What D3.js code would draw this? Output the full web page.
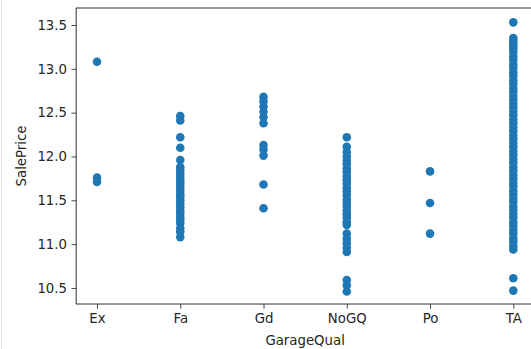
<!DOCTYPE html>
<html>
<head>
<meta charset="utf-8">
<script src="https://cdn.jsdelivr.net/npm/d3@7"></script>
<style>
	body { margin: 0; background: #fff; }
	text { font-family: "DejaVu Sans", sans-serif; fill: #262626; }
</style>
</head>
<body>
<svg id="scatter" width="531" height="349"></svg>
<script>
var categories = ["Ex", "Fa", "Gd", "NoGQ", "Po", "TA"];

var exPrice = [13.08, 11.76, 11.71];
var faPrice = [12.46, 12.41, 12.22, 12.10, 11.96, 11.88, 11.84, 11.80, 11.76, 11.72, 11.69, 11.65, 11.61, 11.57,
	11.54, 11.50, 11.46, 11.42, 11.38, 11.35, 11.31, 11.28, 11.24, 11.18, 11.14, 11.08];
var gdPrice = [12.68, 12.63, 12.57, 12.51, 12.45, 12.38, 12.13, 12.08, 12.01, 11.68, 11.41];
var noGqPrice = [12.22, 12.11, 12.05, 12.00, 11.95, 11.91, 11.86, 11.82, 11.77, 11.73, 11.69, 11.64, 11.60,
	11.56, 11.51, 11.47, 11.43, 11.38, 11.34, 11.30, 11.25, 11.22, 11.12, 11.06, 11.01, 10.96, 10.91,
	10.59, 10.53, 10.46];
var poPrice = [11.83, 11.47, 11.12];
var taPrice = [13.53, 13.35, 13.32, 13.29, 13.26, 13.23, 13.19, 13.14, 13.10, 13.05, 13.01, 12.96, 12.92,
	12.87, 12.83, 12.78, 12.74, 12.69, 12.65, 12.60, 12.56, 12.51, 12.47, 12.42, 12.38, 12.33, 12.29, 12.24,
	12.20, 12.15, 12.11, 12.06, 12.02, 11.97, 11.93, 11.88, 11.84, 11.79, 11.75, 11.70, 11.66, 11.61, 11.57,
	11.52, 11.48, 11.43, 11.39, 11.34, 11.30, 11.25, 11.21, 11.16, 11.12, 11.07, 11.03, 10.98, 10.94, 10.61, 10.47];

var yTicks = [10.5, 11.0, 11.5, 12.0, 12.5, 13.0, 13.5];

var svg = d3.select("#scatter");

// light frame line of the notebook output cell
svg.append("line")
	.attr("x1", 1.5).attr("x2", 1.5)
	.attr("y1", 0).attr("y2", 349)
	.attr("stroke", "#e6e6e6");

var x = d3.scalePoint()
	.domain(categories)
	.range([97, 513.3]);

var y = d3.scaleLinear()
	.domain([10.317, 13.694])
	.range([304, 8]);

var left = x("Ex") - x.step() * 0.25,
	right = x("TA") + x.step() * 0.25;

var points = [];
[exPrice, faPrice, gdPrice, noGqPrice, poPrice, taPrice].forEach(function(arr, i) {
	arr.forEach(function(v) { points.push({cat: categories[i], price: v}); });
});

svg.append("g")
	.selectAll("circle")
	.data(points)
	.enter().append("circle")
	.attr("cx", d => x(d.cat))
	.attr("cy", d => y(d.price))
	.attr("r", 4.3)
	.attr("fill", "#1f77b4");

var xAxis = svg.append("g")
	.attr("transform", "translate(0,304)")
	.call(d3.axisBottom(x).tickSize(4.7).tickPadding(4.5));

var yAxis = svg.append("g")
	.attr("transform", `translate(${left},0)`)
	.call(d3.axisLeft(y).tickValues(yTicks).tickFormat(d3.format(".1f")).tickSize(4.7).tickPadding(4.5));

[xAxis, yAxis].forEach(function(a) {
	a.select(".domain").remove();
	a.selectAll(".tick line").attr("stroke", "#333").attr("stroke-width", 0.9);
	a.selectAll(".tick text").style("font-size", "13.3px").attr("fill", "#262626");
});

// axes frame
svg.append("rect")
	.attr("x", left)
	.attr("y", 8)
	.attr("width", right - left)
	.attr("height", 296)
	.attr("fill", "none")
	.attr("stroke", "#333")
	.attr("stroke-width", 1);

svg.append("text")
	.attr("x", (left + right) / 2)
	.attr("y", 345)
	.attr("text-anchor", "middle")
	.style("font-size", "13.3px")
	.text("GarageQual");

svg.append("text")
	.attr("transform", `translate(26,156) rotate(-90)`)
	.attr("text-anchor", "middle")
	.style("font-size", "13.3px")
	.text("SalePrice");
</script>
</body>
</html>
